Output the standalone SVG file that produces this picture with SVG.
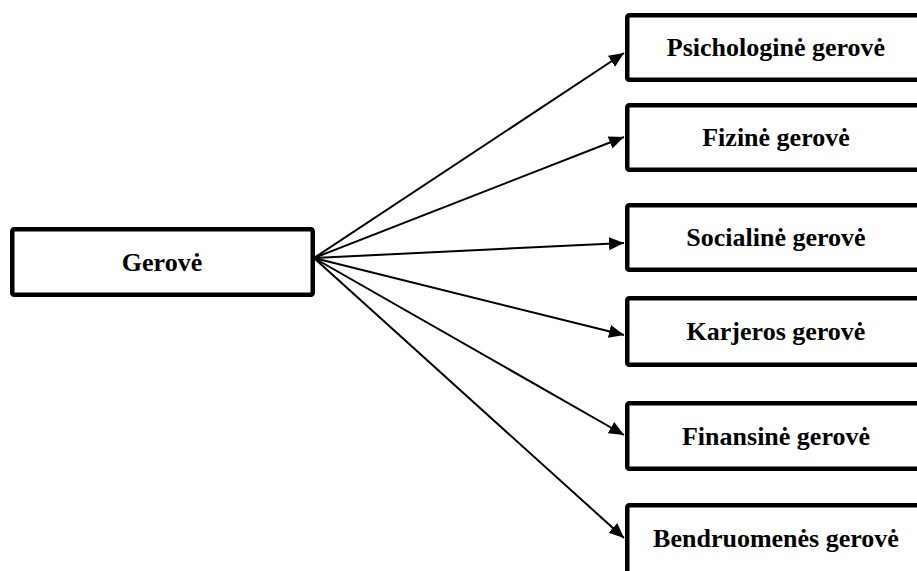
<svg xmlns="http://www.w3.org/2000/svg" width="917" height="571" viewBox="0 0 917 571">
<style>
.box{fill:#fff;stroke:#000;stroke-width:4.5}
.lbl{font-family:"Liberation Serif","Times New Roman",serif;font-weight:bold;font-size:26px;fill:#000;text-anchor:middle}
.con{stroke:#000;stroke-width:2;fill:none;marker-end:url(#ah)}
</style>
<defs>
<marker id="ah" markerUnits="userSpaceOnUse" markerWidth="16" markerHeight="14" refX="15" refY="6.5" orient="auto">
<path d="M0,0 L15,6.5 L0,13 z" fill="#000"/>
</marker>
</defs>
<g id="connectors">
<line class="con" x1="314" y1="258" x2="624" y2="53"/>
<line class="con" x1="314" y1="258" x2="624" y2="137"/>
<line class="con" x1="314" y1="258" x2="624" y2="243"/>
<line class="con" x1="314" y1="258" x2="624" y2="335"/>
<line class="con" x1="314" y1="258" x2="624" y2="435"/>
<line class="con" x1="314" y1="258" x2="624" y2="538"/>
</g>
<g id="gerove">
<rect class="box" x="12.25" y="229.25" width="300.5" height="65.5" rx="2"/>
<text class="lbl" x="162" y="271">Gerovė</text>
</g>
<g id="psichologine">
<rect class="box" x="627.25" y="15.25" width="300" height="64.5" rx="2"/>
<text class="lbl" x="776" y="56">Psichologinė gerovė</text>
</g>
<g id="fizine">
<rect class="box" x="627.25" y="105.25" width="300" height="64.5" rx="2"/>
<text class="lbl" x="776" y="146">Fizinė gerovė</text>
</g>
<g id="socialine">
<rect class="box" x="627.25" y="205.25" width="300" height="64.5" rx="2"/>
<text class="lbl" x="776" y="246">Socialinė gerovė</text>
</g>
<g id="karjeros">
<rect class="box" x="627.25" y="298.25" width="300" height="66.5" rx="2"/>
<text class="lbl" x="776" y="340">Karjeros gerovė</text>
</g>
<g id="finansine">
<rect class="box" x="627.25" y="403.25" width="300" height="65.5" rx="2"/>
<text class="lbl" x="776" y="445">Finansinė gerovė</text>
</g>
<g id="bendruomenes">
<rect class="box" x="627.25" y="505.25" width="300" height="70" rx="2"/>
<text class="lbl" x="776" y="547">Bendruomenės gerovė</text>
</g>
</svg>
